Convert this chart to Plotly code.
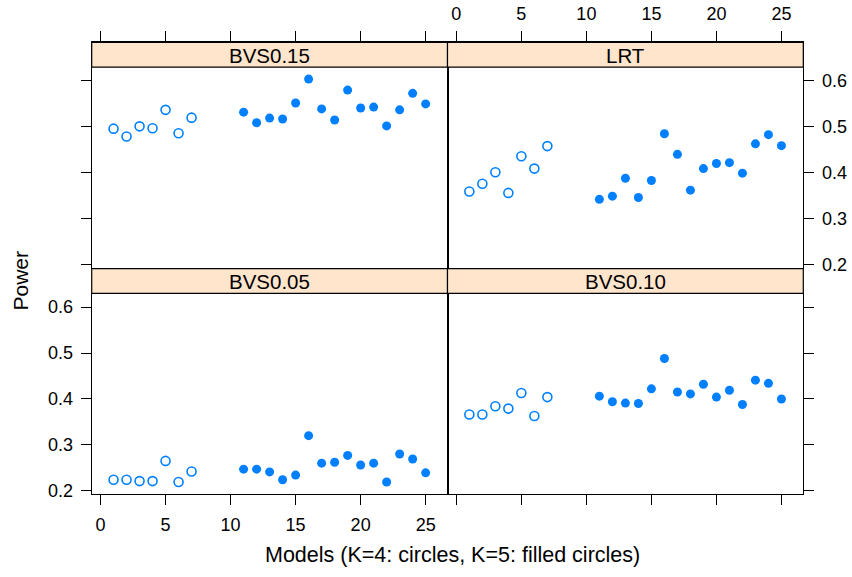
import plotly.graph_objects as go

models_k4 = [1, 2, 3, 4, 5, 6, 7]
models_k5 = [11, 12, 13, 14, 15, 16, 17, 18, 19, 20, 21, 22, 23, 24, 25]

bvs015_k4 = [0.496, 0.479, 0.501, 0.497, 0.537, 0.486, 0.520]
bvs015_k5 = [0.532, 0.509, 0.519, 0.517, 0.552, 0.604, 0.539, 0.515, 0.580,
             0.541, 0.543, 0.502, 0.537, 0.573, 0.550]

lrt_k4 = [0.359, 0.376, 0.401, 0.356, 0.436, 0.409, 0.458]
lrt_k5 = [0.342, 0.349, 0.388, 0.346, 0.383, 0.485, 0.440, 0.362, 0.409,
          0.420, 0.422, 0.399, 0.463, 0.483, 0.459]

bvs005_k4 = [0.224, 0.224, 0.221, 0.221, 0.265, 0.219, 0.242]
bvs005_k5 = [0.247, 0.247, 0.241, 0.224, 0.234, 0.320, 0.260, 0.262, 0.277,
             0.256, 0.260, 0.219, 0.280, 0.269, 0.239]

bvs010_k4 = [0.366, 0.366, 0.384, 0.379, 0.413, 0.363, 0.404]
bvs010_k5 = [0.406, 0.394, 0.391, 0.390, 0.422, 0.488, 0.415, 0.411, 0.432,
             0.404, 0.419, 0.388, 0.441, 0.434, 0.400]

x_ticks = [0, 5, 10, 15, 20, 25]
y_ticks = [0.2, 0.3, 0.4, 0.5, 0.6]

W, H = 852, 577
col = "#0080FF"
FONT = "Liberation Sans, Arial, sans-serif"
XR = [-0.68, 26.68]
YR = [0.193, 0.630]

# panel pixel boxes (data area)
xl = (91.7, 447.5)
xr = (447.5, 803.3)
yt = (68.0, 271.0)   # top panel data area (pixels from top)
yb = (297.0, 500.0)
strip_h = 25.0

def px_x(a, b):
    return [a / W, b / W]

def px_y(top, bot):
    return [1 - bot / H, 1 - top / H]

panels = [
    # name, xdomain, ydomain, data k4, data k5, xside, xlabels, yside, ylabels
    ("BVS0.15", xl, yt, bvs015_k4, bvs015_k5, "top", False, "left", False),
    ("LRT", xr, yt, lrt_k4, lrt_k5, "top", True, "right", True),
    ("BVS0.05", xl, yb, bvs005_k4, bvs005_k5, "bottom", True, "left", True),
    ("BVS0.10", xr, yb, bvs010_k4, bvs010_k5, "bottom", False, "right", False),
]

tickfont = dict(family=FONT, size=18, color="black")
tickstyle = dict(ticks="outside", ticklen=10, tickwidth=1, tickcolor="black",
                 tickfont=tickfont, ticklabelstandoff=4)
box = dict(showline=True, mirror=True, linecolor="black", linewidth=1.2,
           showgrid=False, zeroline=False)

fig = go.Figure()
shapes = []
annotations = []
layout = {}
for i, (name, xd, yd, d4, d5, xside, xlab, yside, ylab) in enumerate(panels):
    n = "" if i == 0 else str(i + 1)
    xa, ya = "x" + n, "y" + n
    fig.add_trace(go.Scatter(
        x=models_k4, y=d4, xaxis=xa, yaxis=ya, mode="markers",
        marker=dict(symbol="circle-open", size=9, color=col,
                    line=dict(width=1.6, color=col)),
        showlegend=False, hoverinfo="skip"))
    fig.add_trace(go.Scatter(
        x=models_k5, y=d5, xaxis=xa, yaxis=ya, mode="markers",
        marker=dict(symbol="circle", size=9, color=col, line=dict(width=0)),
        showlegend=False, hoverinfo="skip"))
    s_top = yd[0] - strip_h
    if xside == "top":
        # extend the subplot over the strip so the top ticks sit above it
        yrng = [YR[0], YR[1] + strip_h * (YR[1] - YR[0]) / (yd[1] - yd[0])]
        ydom = px_y(s_top, yd[1])
    else:
        yrng = YR
        ydom = px_y(*yd)
    layout["xaxis" + n] = dict(domain=px_x(*xd), range=XR, anchor=ya,
                               side=xside, tickvals=x_ticks,
                               showticklabels=xlab, **box, **tickstyle)
    layout["yaxis" + n] = dict(domain=ydom, range=yrng, anchor=xa,
                               side=yside, tickvals=y_ticks, tickformat=".1f",
                               showticklabels=ylab, **box, **tickstyle)
    # strip
    shapes.append(dict(type="rect", xref="paper", yref="paper",
                       x0=xd[0] / W, x1=xd[1] / W,
                       y0=1 - yd[0] / H, y1=1 - s_top / H,
                       fillcolor="#FFE5CC", line=dict(color="black", width=1.2),
                       layer="above"))
    annotations.append(dict(xref="paper", yref="paper",
                            x=(xd[0] + xd[1]) / 2 / W,
                            y=1 - (s_top + strip_h / 2 + 0.5) / H,
                            text=name, showarrow=False,
                            xanchor="center", yanchor="middle",
                            font=dict(family=FONT, size=20.5, color="black")))

annotations.append(dict(xref="paper", yref="paper", x=453 / W, y=1 - 562 / H,
                        text="Models (K=4: circles, K=5: filled circles)",
                        showarrow=False, xanchor="center", yanchor="middle",
                        font=dict(family=FONT, size=21.5, color="black")))
annotations.append(dict(xref="paper", yref="paper", x=21 / W, y=1 - 284 / H,
                        text="Power", textangle=-90,
                        showarrow=False, xanchor="center", yanchor="middle",
                        font=dict(family=FONT, size=21, color="black")))

fig.update_layout(width=W, height=H, margin=dict(l=0, r=0, t=0, b=0),
                  paper_bgcolor="white", plot_bgcolor="white",
                  shapes=shapes, annotations=annotations, **layout)

fig.write_html("out.html")
